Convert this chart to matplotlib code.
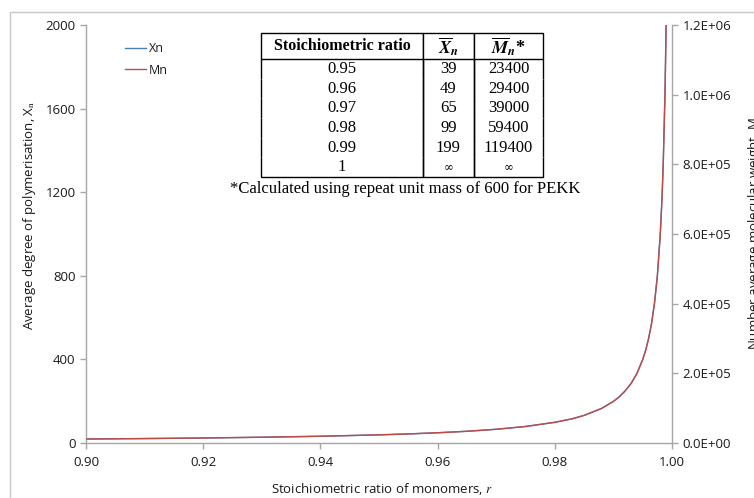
import matplotlib
matplotlib.use("Agg")
import matplotlib.pyplot as plt
from matplotlib.patches import Rectangle
from matplotlib.ticker import FuncFormatter

# ---- data ----
r_vals = [0.900, 0.910, 0.920, 0.930, 0.940, 0.950, 0.955, 0.960, 0.965, 0.970,
          0.975, 0.980, 0.983, 0.985, 0.988, 0.990, 0.991, 0.992, 0.993, 0.994,
          0.995, 0.9955, 0.996, 0.9965, 0.997, 0.9975, 0.998, 0.9983, 0.9985,
          0.9988, 0.999]
xn_vals = [19, 21.2, 24, 27.6, 32.3, 39, 43.4, 49, 56.1, 65.7,
           79, 99, 116, 132, 165.7, 199, 221, 249, 284, 332,
           399, 443, 499, 570, 666, 799, 999, 1175, 1332,
           1666, 1999]
repeat_unit_mass = 600
mn_vals = [x * repeat_unit_mass for x in xn_vals]

table_header = ["Stoichiometric ratio", r"$\overline{\mathbfit{X}}_{\mathbfit{n}}$",
                r"$\overline{\mathbfit{M}}_{\mathbfit{n}}$*"]
table_ratio = ["0.95", "0.96", "0.97", "0.98", "0.99", "1"]
table_xn = ["39", "49", "65", "99", "199", "\u221e"]
table_mn = ["23400", "29400", "39000", "59400", "119400", "\u221e"]
footnote = "*Calculated using repeat unit mass of 600 for PEKK"

x_ticks = [0.90, 0.92, 0.94, 0.96, 0.98, 1.00]
y_ticks = [0, 400, 800, 1200, 1600, 2000]
y2_ticks = [0, 2e5, 4e5, 6e5, 8e5, 1.0e6, 1.2e6]

# ---- style ----
plt.rcParams['font.family'] = ['Open Sans', 'DejaVu Sans']
plt.rcParams['mathtext.fontset'] = 'stix'
axis_gray = '#A6A6A6'
text_col = '#1a1a1a'
blue = '#4A7EBB'
red = '#BE4B48'
fs = 9.5

fig = plt.figure(figsize=(7.54, 4.98), dpi=100)
W, H = 754, 498

# outer chart border
fig.patches.append(Rectangle((10 / W, -0.05), 1.1, 1 - 12 / H + 0.05,
                             transform=fig.transFigure, fill=False,
                             edgecolor='#C8C8C8', linewidth=1.0))

ax = fig.add_axes([86 / W, 1 - 443 / H, (672 - 86) / W, (443 - 25) / H])
ax2 = ax.twinx()

l1, = ax.plot(r_vals, xn_vals, color=blue, linewidth=1.0, label='Xn')
l2, = ax2.plot(r_vals, mn_vals, color=red, linewidth=1.0, label='Mn')

ax.set_xlim(0.90, 1.00)
ax.set_ylim(0, 2000)
ax2.set_ylim(0, 1.2e6)
ax.set_xticks(x_ticks)
ax.set_xticklabels([f"{v:.2f}" for v in x_ticks])
ax.set_yticks(y_ticks)
ax2.set_yticks(y2_ticks)
ax2.yaxis.set_major_formatter(FuncFormatter(lambda v, p: f"{v:.1E}"))

for a in (ax, ax2):
    for s in a.spines.values():
        s.set_color(axis_gray)
        s.set_linewidth(1.0)
    a.spines['top'].set_visible(False)
    a.tick_params(colors=axis_gray, labelcolor=text_col, labelsize=fs,
                  length=4, width=1.0, direction='out')
ax.spines['right'].set_visible(False)
ax2.spines['left'].set_visible(False)
ax2.spines['bottom'].set_visible(False)
ax.tick_params(axis='x', pad=5)

ax.set_xlabel("Stoichiometric ratio of monomers, $\\mathit{r}$", fontsize=fs,
              color=text_col)
ax.xaxis.set_label_coords((382 - 86) / 586, -(481 - 443) / 418)
ax.set_ylabel("Average degree of polymerisation, X$_\\mathrm{n}$", fontsize=fs,
              color=text_col)
ax.yaxis.set_label_coords((38 - 86) / 586, 1 - (215 - 25) / 418)
ax2.set_ylabel("Number average molecular weight, M$_\\mathrm{n}$", fontsize=fs,
               color=text_col)
ax2.yaxis.set_label_coords((746 - 86) / 586, 1 - (231 - 25) / 418)

leg = ax.legend(handles=[l1, l2], loc='upper left',
                bbox_to_anchor=((125 - 86) / 586, 1 - (42 - 25) / 418),
                borderaxespad=0, borderpad=0,
                frameon=False, fontsize=9, handlelength=1.7, handletextpad=0.2,
                labelspacing=0.7)
for t in leg.get_texts():
    t.set_color(text_col)

# ---- table ----
cell_text = [[a, b, c] for a, b, c in zip(table_ratio, table_xn, table_mn)]
tbl = ax.table(cellText=cell_text, colLabels=table_header,
               colWidths=[0.574, 0.181, 0.245], cellLoc='center',
               bbox=[(261 - 86) / 586, 1 - (177 - 25) / 418,
                     (543 - 261) / 586, (177 - 33) / 418])
tbl.auto_set_font_size(False)
nrows = len(table_ratio)
for (row, col), cell in tbl.get_celld().items():
    cell.set_linewidth(1.0)
    cell.set_edgecolor('black')
    cell.set_facecolor('white')
    cell.PAD = 0.02
    txt = cell.get_text()
    txt.set_fontfamily('Liberation Serif')
    txt.set_fontsize(12)
    if row == 0:
        cell.set_height(26)
        cell.visible_edges = 'closed'
        txt.set_fontweight('bold')
        txt.set_fontsize(11.5)
        if col > 0:
            txt.set_fontsize(13)
    else:
        cell.set_height(19.5)
        cell.visible_edges = 'LRB' if row == nrows else 'LR'
        if table_xn[row - 1] == "\u221e" and col > 0:
            txt.set_fontfamily('DejaVu Serif')
            txt.set_fontsize(8.5)

ax.text((405 - 86) / 586, 1 - (189 - 25) / 418, footnote, transform=ax.transAxes,
        ha='center', va='center', fontsize=12, family='Liberation Serif',
        color='black')

fig.savefig("out.png", dpi=100)
